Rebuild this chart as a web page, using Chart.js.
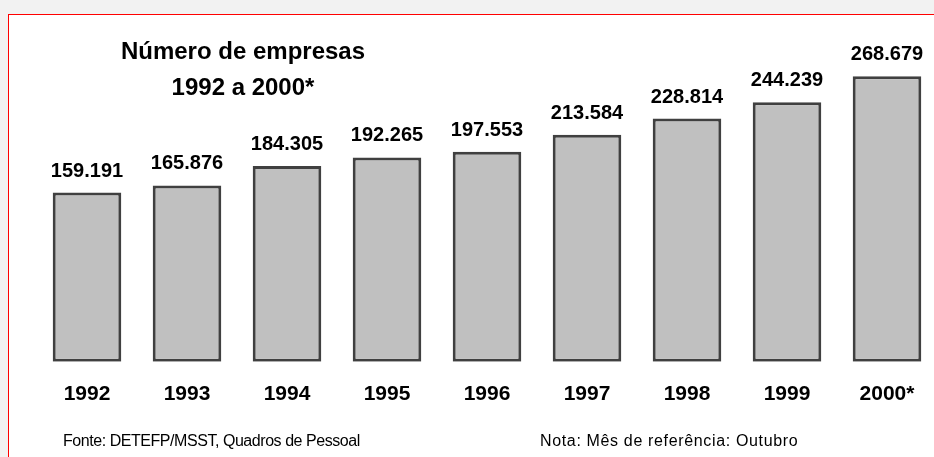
<!DOCTYPE html>
<html>
<head>
<meta charset="utf-8">
<script src="https://cdn.jsdelivr.net/npm/chart.js@4/dist/chart.umd.min.js"></script>
<style>
  html, body { margin: 0; padding: 0; width: 934px; height: 457px; overflow: hidden; background: #f2f2f2; }
  #frame { position: absolute; left: 8px; top: 14px; width: 960px; height: 470px; background: #ffffff; border: 1px solid #ff0000; box-sizing: border-box; }
  #c { position: absolute; left: 0; top: 0; }
  .t { position: absolute; font-family: "Liberation Sans", Arial, sans-serif; color: #000; white-space: nowrap; }
  .title { font-weight: bold; font-size: 24px; line-height: 24px; left: 0; width: 486px; text-align: center; }
  .foot { font-size: 16px; line-height: 16px; top: 432.5px; }
</style>
</head>
<body>
<div id="frame"></div>
<canvas id="c" width="960" height="457"></canvas>
<div class="t title" style="top:39px">Número de empresas</div>
<div class="t title" style="top:74.7px">1992 a 2000*</div>
<div class="t foot" style="left:63px; letter-spacing:-0.45px">Fonte: DETEFP/MSST, Quadros de Pessoal</div>
<div class="t foot" style="left:540px; letter-spacing:0.65px">Nota: Mês de referência: Outubro</div>
<script>
const years = ["1992", "1993", "1994", "1995", "1996", "1997", "1998", "1999", "2000*"];
const empresas = [159191, 165876, 184305, 192265, 197553, 213584, 228814, 244239, 268679];
const valueLabels = ["159.191", "165.876", "184.305", "192.265", "197.553", "213.584", "228.814", "244.239", "268.679"];

const FONT = '"Liberation Sans", Arial, sans-serif';

const valueLabelPlugin = {
  id: 'valueLabels',
  afterDatasetsDraw(chart) {
    const ctx = chart.ctx;
    const meta = chart.getDatasetMeta(0);
    ctx.save();
    ctx.font = 'bold 20px ' + FONT;
    ctx.fillStyle = '#000';
    ctx.textAlign = 'center';
    ctx.textBaseline = 'alphabetic';
    meta.data.forEach((bar, i) => {
      ctx.fillText(valueLabels[i], bar.x, bar.y - 16);
    });
    ctx.restore();
  }
};

new Chart(document.getElementById('c'), {
  type: 'bar',
  data: {
    labels: years,
    datasets: [{
      data: empresas,
      backgroundColor: '#c0c0c0',
      borderColor: '#404040',
      borderWidth: 3,
      borderSkipped: false,
      barPercentage: 0.686,
      categoryPercentage: 1
    }]
  },
  options: {
    responsive: false,
    animation: false,
    devicePixelRatio: 1,
    layout: { padding: { left: 37, right: 23, top: 43, bottom: 55.3 } },
    plugins: { legend: { display: false }, tooltip: { enabled: false }, title: { display: false } },
    scales: {
      x: {
        grid: { display: false, drawTicks: false },
        border: { display: false },
        ticks: { color: '#000', font: { family: FONT, size: 21, weight: 'bold' }, padding: 20, maxRotation: 0, autoSkip: false },
        afterFit(scale) { scale.height = 40; }
      },
      y: {
        display: false,
        min: 0,
        max: 300000
      }
    }
  },
  plugins: [valueLabelPlugin]
});
</script>
</body>
</html>
